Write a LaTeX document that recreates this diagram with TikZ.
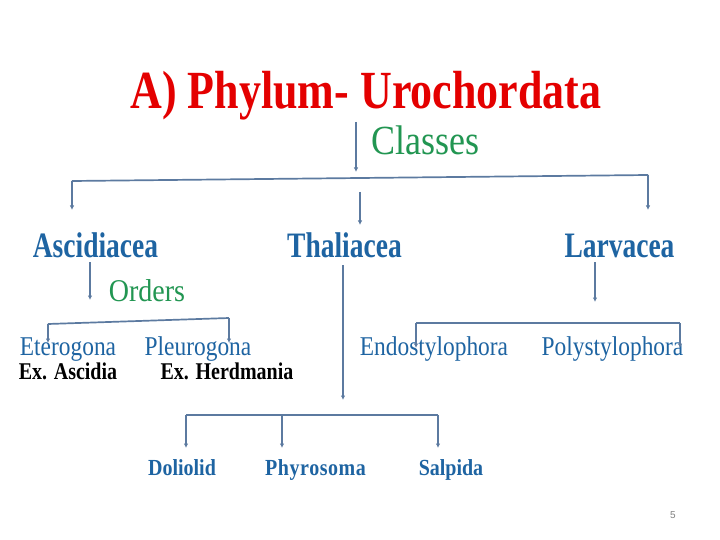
\documentclass[tikz,border=0pt]{standalone}
\usepackage{fontspec}
\setmainfont{Liberation Serif}
\newfontfamily\pgnumfont{Liberation Sans}
\usetikzlibrary{arrows.meta}
\definecolor{titlered}{RGB}{228,0,0}
\definecolor{hgreen}{RGB}{34,150,82}
\definecolor{tblue}{RGB}{30,100,162}
\definecolor{lineblue}{RGB}{92,122,160}
\newcommand{\tallt}[2][1.2]{\scalebox{1}[#1]{#2}}
\tikzset{
  lbl/.style={inner sep=0pt, anchor=base},
  conn/.style={draw=lineblue, line width=1.7pt},
  arr/.style={conn, -{Latex[length=4.5pt,width=4.5pt]}},
  cls/.style={lbl, text=tblue, font=\fontsize{27.5}{30}\selectfont\bfseries},
  ord/.style={lbl, text=tblue, font=\fontsize{23.4}{26}\selectfont},
  ex/.style={lbl, text=black, font=\fontsize{20}{22}\selectfont\bfseries},
  fam/.style={lbl, text=tblue, font=\fontsize{20}{22}\selectfont\bfseries},
  grn/.style={lbl, text=hgreen},
}
\begin{document}
\begin{tikzpicture}[x=1pt,y=1pt]
\useasboundingbox[fill=white] (0,0) rectangle (720,-540);

% title
\node[lbl, text=titlered, font=\fontsize{44}{48}\selectfont\bfseries] (title) at (366,-109) {\tallt[1.22]{A) Phylum- Urochordata}};
\node[grn, font=\fontsize{36}{40}\selectfont] (classes) at (425,-155) {\tallt[1.15]{Classes}};

% classes
\node[cls] (asc) at (95.5,-257) {\tallt[1.3]{Ascidiacea}};
\node[cls] (tha) at (344.5,-257) {\tallt[1.3]{Thaliacea}};
\node[cls] (lar) at (619.5,-257) {\tallt[1.3]{Larvacea}};

% orders
\node[grn, font=\fontsize{28}{30}\selectfont] (orders) at (147,-301) {\tallt[1.13]{Orders}};
\node[ord] (ete) at (68,-355) {\tallt[1.16]{Eterogona}};
\node[ord] (ple) at (198,-355) {\tallt[1.16]{Pleurogona}};
\node[ord] (end) at (434,-355) {\tallt[1.16]{Endostylophora}};
\node[ord] (pol) at (612.5,-355) {\tallt[1.16]{Polystylophora}};
\node[ex] (exa) at (68,-379) {\tallt{Ex. Ascidia}};
\node[ex] (exh) at (227,-379) {\tallt{Ex. Herdmania}};

% families
\node[fam] (dol) at (182,-475) {\tallt[1.15]{Doliolid}};
\node[fam] (phy) at (315.5,-475) {\tallt[1.15]{P\kern.5pt h\kern.5pt y\kern.5pt r\kern.5pt o\kern.5pt s\kern.5pt o\kern.5pt m\kern.5pt a}};
\node[fam] (sal) at (451,-475) {\tallt[1.15]{Salpida}};

\node[inner sep=0pt, text=gray, font=\pgnumfont\fontsize{10}{12}\selectfont] (pg) at (673,-515) {5};

% coordinates
\coordinate (t0) at (356,-122);
\coordinate (t1) at (356,-172);
\coordinate (hL) at (72,-181);
\coordinate (hR) at (648,-175);
\coordinate (hLd) at (72,-210);
\coordinate (hRd) at (648,-210);
\coordinate (m0) at (360,-192);
\coordinate (m1) at (360,-225);

\coordinate (a0) at (90,-262);
\coordinate (a1) at (90,-300);
\coordinate (oL) at (48,-324);
\coordinate (oR) at (229,-318);
\coordinate (oLd) at (48,-343);
\coordinate (oRd) at (229,-343);

\coordinate (th0) at (343,-265);
\coordinate (th1) at (343,-400);
\coordinate (fL) at (186,-415);
\coordinate (fM) at (282,-415);
\coordinate (fR) at (438,-415);
\coordinate (fLd) at (186,-448);
\coordinate (fMd) at (282,-448);
\coordinate (fRd) at (438,-448);

\coordinate (l0) at (595,-262);
\coordinate (l1) at (595,-302);
\coordinate (pL) at (416,-323);
\coordinate (pR) at (680,-323);
\coordinate (pLd) at (416,-348);
\coordinate (pRd) at (680,-348);

% connectors
\draw[arr] (t0) -- (t1);
\draw[conn] (hL) -- (hR);
\draw[arr] (hL) -- (hLd);
\draw[arr] (hR) -- (hRd);
\draw[arr] (m0) -- (m1);

\draw[arr] (a0) -- (a1);
\draw[conn] (oL) -- (oR);
\draw[arr] (oL) -- (oLd);
\draw[arr] (oR) -- (oRd);

\draw[arr] (th0) -- (th1);
\draw[conn] (fL) -- (fR);
\draw[arr] (fL) -- (fLd);
\draw[arr] (fM) -- (fMd);
\draw[arr] (fR) -- (fRd);

\draw[arr] (l0) -- (l1);
\draw[conn] (pL) -- (pR);
\draw[arr] (pL) -- (pLd);
\draw[arr] (pR) -- (pRd);
\end{tikzpicture}
\end{document}
